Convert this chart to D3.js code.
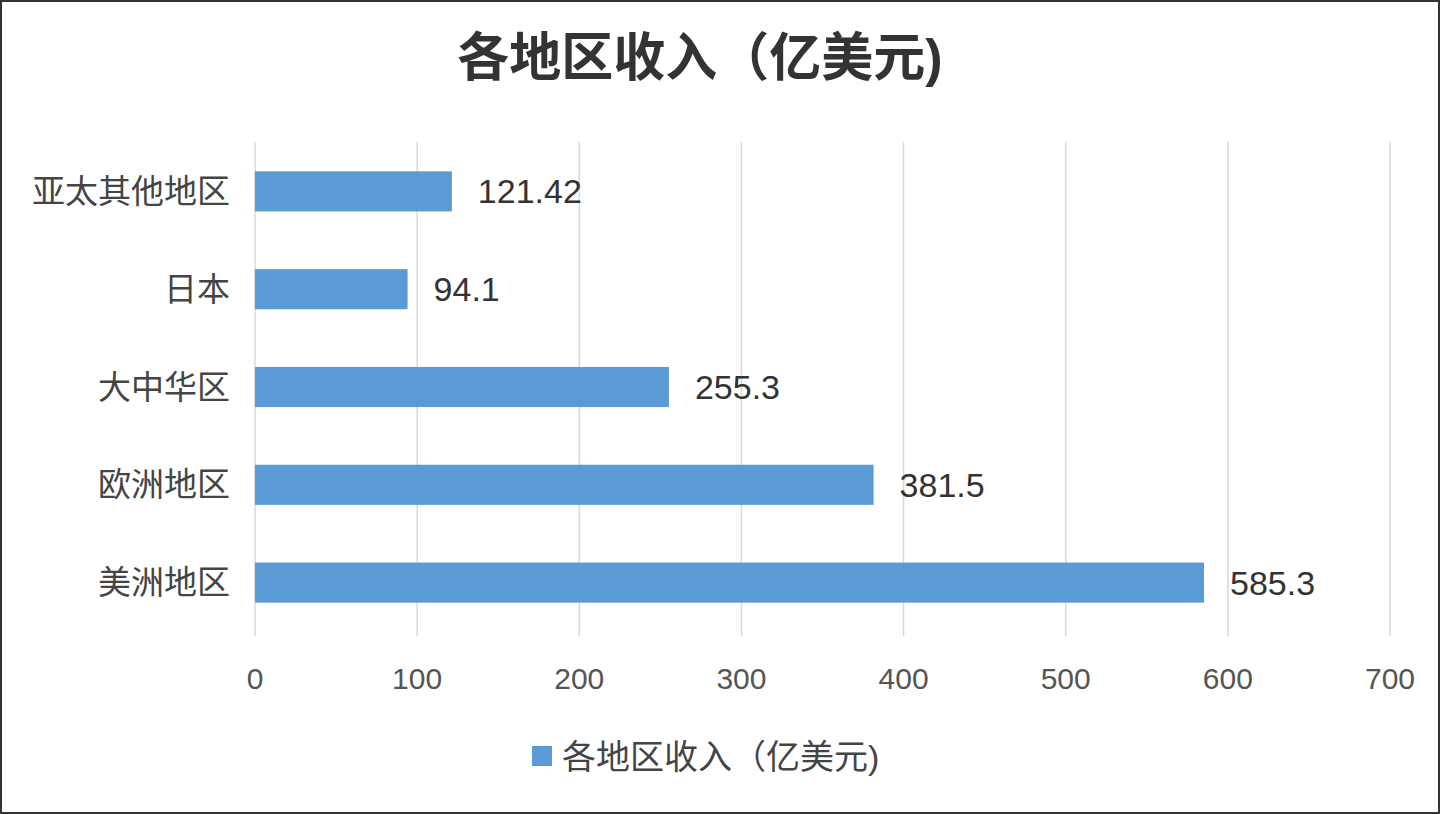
<!DOCTYPE html>
<html><head><meta charset="utf-8">
<script src="https://cdn.jsdelivr.net/npm/d3@7/dist/d3.min.js"></script>
<style>body{margin:0;background:#fff}svg{display:block}</style></head>
<body><svg id="c" width="1440" height="814"></svg>
<script>
const categories=["亚太其他地区","日本","大中华区","欧洲地区","美洲地区"];
const values=[121.42,94.1,255.3,381.5,585.3];
const valueLabels=["121.42","94.1","255.3","381.5","585.3"];
const ticks=[0,100,200,300,400,500,600,700];
const title="各地区收入（亿美元)";
const legendText="各地区收入（亿美元)";
const font="'Liberation Sans','Noto Sans CJK SC',sans-serif";
const svg=d3.select("#c");
svg.append("rect").attr("x",1).attr("y",1).attr("width",1438).attr("height",812).attr("fill","#fff").attr("stroke","#333").attr("stroke-width",2);
const x=d3.scaleLinear().domain([0,700]).range([255,1390]);
const y=d3.scaleBand().domain(categories).range([142,632]).paddingInner(0.59).paddingOuter(0.3);
svg.append("g").selectAll("line").data(ticks).join("line")
 .attr("x1",d=>x(d)).attr("x2",d=>x(d)).attr("y1",142).attr("y2",636)
 .attr("stroke","#d9d9d9").attr("stroke-width",1.5);
svg.append("g").selectAll("rect").data(values).join("rect")
 .attr("x",x(0)).attr("y",(d,i)=>y(categories[i])).attr("width",d=>x(d)-x(0))
 .attr("height",y.bandwidth()).attr("fill","#5b9bd5");
svg.append("g").selectAll("text").data(values).join("text")
 .attr("x",d=>x(d)+26).attr("y",(d,i)=>y(categories[i])+y.bandwidth()/2)
 .attr("dy","0.35em").attr("font-family",font).attr("font-size",34).attr("fill","#333")
 .text((d,i)=>valueLabels[i]);
svg.append("g").selectAll("text").data(categories).join("text")
 .attr("x",230).attr("y",d=>y(d)+y.bandwidth()/2).attr("dy","0.35em")
 .attr("text-anchor","end").attr("font-family",font).attr("font-size",33).attr("fill","#444").text(d=>d);
svg.append("g").selectAll("text").data(ticks).join("text")
 .attr("x",d=>x(d)).attr("y",678).attr("dy","0.35em").attr("text-anchor","middle")
 .attr("font-family",font).attr("font-size",30).attr("fill","#555").text(d=>d);
svg.append("text").attr("x",700).attr("y",58).attr("dy","0.35em").attr("text-anchor","middle")
 .attr("font-family",font).attr("font-size",52).attr("font-weight","bold").attr("fill","#333").text(title);
svg.append("rect").attr("x",532).attr("y",746).attr("width",20).attr("height",20).attr("fill","#5b9bd5");
svg.append("text").attr("x",562).attr("y",757).attr("dy","0.35em").attr("font-family",font)
 .attr("font-size",34).attr("fill","#444").text(legendText);
</script></body></html>
